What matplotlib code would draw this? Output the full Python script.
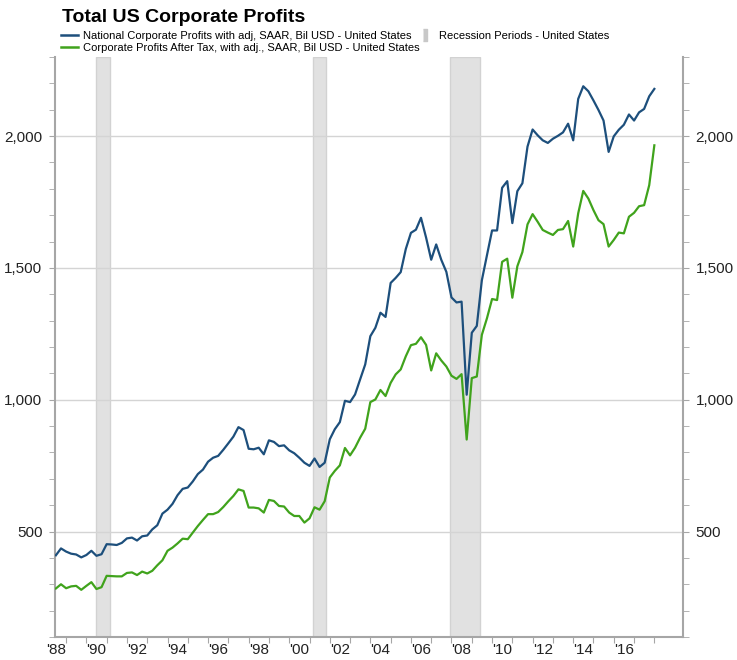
import matplotlib
matplotlib.use("Agg")
import matplotlib.pyplot as plt
import matplotlib.dates as mdates
import matplotlib.ticker as mticker
from matplotlib.lines import Line2D
import pandas as pd

# quarterly, 1988Q3 .. 2018Q1 (plotted at quarter start)
quarters = pd.date_range("1988-07-01", "2018-01-01", freq="QS")

national_profits = [
    410, 436, 424, 416, 413, 402, 411, 427, 408, 414,
    452, 451, 449, 457, 474, 477, 466, 482, 485, 508,
    524, 568, 583, 605, 638, 662, 667, 690, 718, 735,
    765, 780, 787, 810, 835, 860, 896, 885, 814, 812,
    818, 793, 846, 840, 824, 827, 808, 797, 780, 761,
    749, 777, 745, 761, 850, 888, 915, 996, 991, 1020,
    1077, 1134, 1241, 1273, 1330, 1314, 1443, 1462, 1484, 1572,
    1633, 1645, 1690, 1615, 1531, 1589, 1531, 1485, 1388, 1369,
    1372, 1019, 1254, 1280, 1453, 1548, 1642, 1642, 1804, 1829,
    1670, 1791, 1821, 1960, 2025, 2003, 1984, 1974, 1990, 2001,
    2014, 2047, 1984, 2141, 2189, 2170, 2135, 2099, 2059, 1940,
    1999, 2024, 2043, 2082, 2059, 2090, 2103, 2151, 2179,
]

after_tax_profits = [
    284, 300, 285, 292, 294, 279, 294, 308, 282, 289,
    332, 331, 330, 330, 343, 345, 335, 348, 341, 351,
    372, 391, 427, 439, 455, 473, 471, 496, 521, 544,
    566, 566, 574, 593, 615, 635, 660, 654, 591, 591,
    588, 572, 620, 616, 597, 595, 572, 559, 559, 534,
    550, 592, 583, 615, 705, 730, 751, 817, 789, 818,
    856, 890, 991, 1001, 1037, 1014, 1064, 1096, 1115, 1165,
    1207, 1212, 1237, 1208, 1111, 1176, 1149, 1126, 1091, 1079,
    1097, 849, 1082, 1088, 1246, 1309, 1382, 1378, 1523, 1535,
    1387, 1506, 1560, 1665, 1704, 1675, 1644, 1634, 1625, 1644,
    1647, 1678, 1581, 1707, 1792, 1763, 1719, 1681, 1666, 1581,
    1606, 1634, 1631, 1694, 1709, 1734, 1738, 1814, 1965,
]

recession_start = ["1990-07-01", "2001-03-01", "2007-12-01"]
recession_end = ["1991-03-01", "2001-11-01", "2009-06-01"]

label_years = list(range(1988, 2017, 2))
tick_years = list(range(1989, 2019))

BLUE = "#1d4f7c"
GREEN = "#40a31c"
SHADE = "#e1e1e1"
SPINE = "#a6a6a6"

plt.rcParams["font.family"] = ["Liberation Sans", "DejaVu Sans"]

fig = plt.figure(figsize=(7.37, 6.6), dpi=100)
ax = fig.add_axes([55 / 737, 23 / 660, 628 / 737, 580 / 660])

for start, end in zip(recession_start, recession_end):
    ax.axvspan(pd.Timestamp(start), pd.Timestamp(end), facecolor=SHADE,
               edgecolor="#d2d2d2", linewidth=1, zorder=0)

ax.plot(quarters, national_profits, color=BLUE, linewidth=1.6, zorder=3)
ax.plot(quarters, after_tax_profits, color=GREEN, linewidth=1.6, zorder=3)

ax.set_ylim(100, 2300)
ax.set_xlim(pd.Timestamp("1988-06-15"), pd.Timestamp("2019-06-01"))

ax.yaxis.set_major_locator(mticker.FixedLocator([500, 1000, 1500, 2000]))
ax.yaxis.set_minor_locator(mticker.MultipleLocator(100))
ax.yaxis.set_major_formatter(mticker.FuncFormatter(lambda v, p: f"{v:,.0f}"))
ax.grid(axis="y", which="major", color="#d4d4d4", linewidth=1, zorder=1)

ax.xaxis.set_major_locator(mticker.FixedLocator(
    [mdates.date2num(pd.Timestamp(f"{y}-01-01")) for y in tick_years]))
ax.xaxis.set_major_formatter(mticker.NullFormatter())
ax.xaxis.set_minor_locator(mticker.FixedLocator(
    [mdates.date2num(pd.Timestamp(f"{y}-07-01")) for y in label_years]))
ax.xaxis.set_minor_formatter(mticker.FixedFormatter([f"'{y % 100:02d}" for y in label_years]))

ax.tick_params(axis="x", which="major", length=4, color=SPINE, direction="out")
ax.tick_params(axis="x", which="minor", length=0, labelsize=11, pad=4, labelcolor="#222222")
ax.tick_params(axis="y", which="both", length=4, color=SPINE, direction="out",
               left=True, right=True, labelleft=True, labelright=True,
               labelsize=11, labelcolor="#222222", pad=5)

for side in ["left", "right", "bottom"]:
    ax.spines[side].set_color(SPINE)
    ax.spines[side].set_linewidth(1.5)
ax.spines["top"].set_visible(False)

fig.text(62 / 737, 1 - 18 / 660, "Total US Corporate Profits", fontsize=14,
         fontweight="bold", va="center", ha="left", color="#000000")

handles = [
    Line2D([], [], color=BLUE, linewidth=1.8),
    Line2D([], [], color=GREEN, linewidth=1.8),
    Line2D([], [], color="#c8c8c8", linestyle="none",
           marker=[(-0.35, -1), (0.35, -1), (0.35, 1), (-0.35, 1)], markersize=9),
]
labels = [
    "National Corporate Profits with adj, SAAR, Bil USD - United States",
    "Corporate Profits After Tax, with adj., SAAR, Bil USD - United States",
    "Recession Periods - United States",
]
fig.legend(handles, labels, loc="upper left", bbox_to_anchor=(61 / 737, 1 - 31 / 660),
           ncol=2, frameon=False, fontsize=8, handlelength=1.5, handletextpad=0.5,
           borderpad=0, borderaxespad=0, labelspacing=0.15, columnspacing=-0.25)

fig.savefig("out.png", dpi=100)
